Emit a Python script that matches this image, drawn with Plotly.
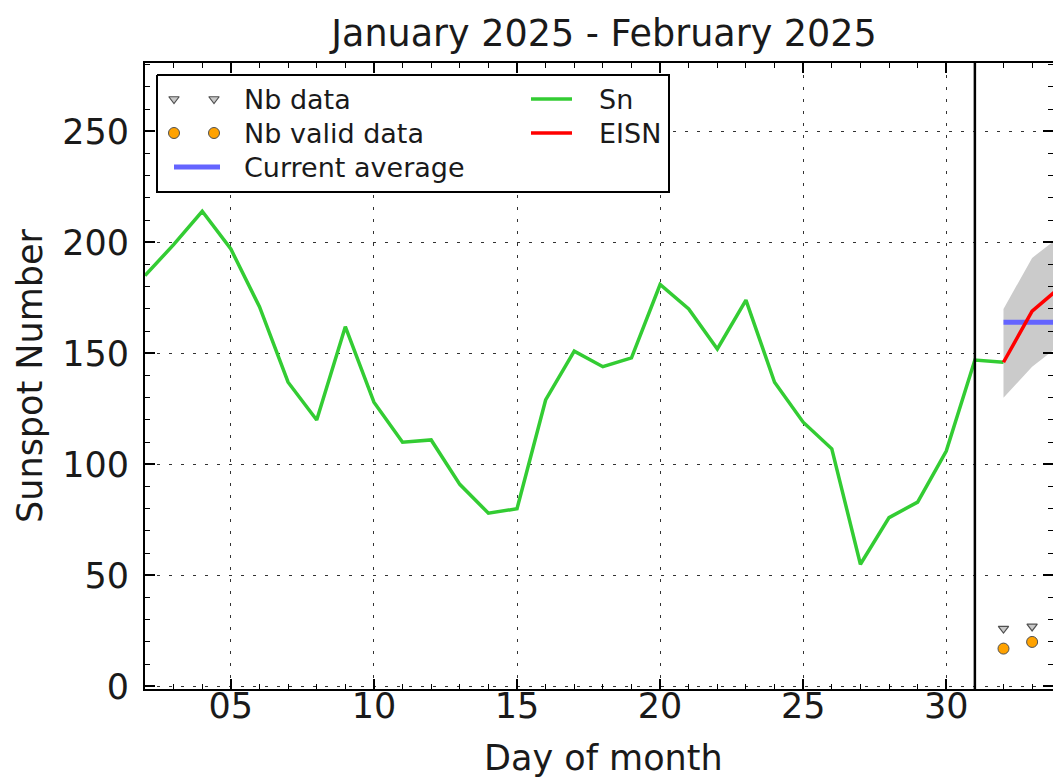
import plotly.graph_objects as go

# Daily sunspot number, January 2025 (days 32+ continue into February)
sn_days = list(range(2, 33))
sn_values = [185, 199, 214, 197, 171, 137, 120, 162, 128, 110, 111, 91, 78, 80,
             129, 151, 144, 148, 181, 170, 152, 174, 137, 119, 107, 55, 76, 83,
             106, 147, 146]

# Estimated international sunspot number for the new month
eisn_days = [32, 33, 34]
eisn_values = [146, 169, 180]
eisn_upper = [170, 193, 203]
eisn_lower = [130, 144, 154]

# Running average of the current month
avg_days = [32, 34]
avg_value = 164

# Number of stations reporting
nb_days = [32, 33]
nb_data = [26, 27]
nb_valid = [17, 20]

month_boundary = 31
x_ticks = [5, 10, 15, 20, 25, 30]
x_tick_labels = ["05", "10", "15", "20", "25", "30"]
y_ticks = [0, 50, 100, 150, 200, 250]

FONT = "DejaVu Sans"
TXT = "#1a1a1a"
W, H = 1053, 778
L, R, T, B = 145, 1053, 63, 689  # plot area in pixels

fig = go.Figure()

# Uncertainty band around EISN
fig.add_trace(go.Scatter(
    x=eisn_days + eisn_days[::-1], y=eisn_upper + eisn_lower[::-1],
    fill="toself", fillcolor="#cbcbcb", line=dict(width=0),
    mode="lines", hoverinfo="skip", showlegend=False))

fig.add_trace(go.Scatter(
    x=avg_days, y=[avg_value] * len(avg_days), mode="lines",
    line=dict(color="#6464ff", width=5), showlegend=False))

fig.add_trace(go.Scatter(
    x=sn_days, y=sn_values, mode="lines",
    line=dict(color="#33cc33", width=3.5), showlegend=False))

fig.add_trace(go.Scatter(
    x=eisn_days, y=eisn_values, mode="lines",
    line=dict(color="#ff0000", width=3.5), showlegend=False))

fig.add_trace(go.Scatter(
    x=nb_days, y=nb_data, mode="markers",
    marker=dict(symbol="triangle-down", size=9, color="#c8c8c8",
                line=dict(color="#505050", width=1.2)),
    showlegend=False, cliponaxis=False))

fig.add_trace(go.Scatter(
    x=nb_days, y=nb_valid, mode="markers",
    marker=dict(symbol="circle", size=11, color="#ffa200",
                line=dict(color="#505050", width=1)),
    showlegend=False, cliponaxis=False))

# Month boundary
fig.add_shape(type="line", xref="x", yref="paper", x0=month_boundary, x1=month_boundary,
              y0=0, y1=1, line=dict(color="black", width=2.5), layer="above")

# ---- Legend drawn in pixel coordinates on an overlay axis pair ----
leg_x0, leg_y0, leg_x1, leg_y1 = 157, 75, 669, 192
fig.add_trace(go.Scatter(
    x=[leg_x0, leg_x1, leg_x1, leg_x0, leg_x0],
    y=[leg_y0, leg_y0, leg_y1, leg_y1, leg_y0],
    xaxis="x2", yaxis="y2", mode="lines", fill="toself", fillcolor="white",
    line=dict(color="black", width=2), showlegend=False, hoverinfo="skip",
    cliponaxis=False))

row_y = [99, 133, 167]
fig.add_trace(go.Scatter(
    x=[174, 214], y=[row_y[0]] * 2, xaxis="x2", yaxis="y2", mode="markers",
    marker=dict(symbol="triangle-down", size=9, color="#c8c8c8",
                line=dict(color="#505050", width=1.2)),
    showlegend=False, cliponaxis=False, hoverinfo="skip"))
fig.add_trace(go.Scatter(
    x=[174, 214], y=[row_y[1]] * 2, xaxis="x2", yaxis="y2", mode="markers",
    marker=dict(symbol="circle", size=11, color="#ffa200",
                line=dict(color="#505050", width=1)),
    showlegend=False, cliponaxis=False, hoverinfo="skip"))
fig.add_trace(go.Scatter(
    x=[174, 220], y=[row_y[2]] * 2, xaxis="x2", yaxis="y2", mode="lines",
    line=dict(color="#6464ff", width=5), showlegend=False, hoverinfo="skip"))
fig.add_trace(go.Scatter(
    x=[531, 572], y=[row_y[0]] * 2, xaxis="x2", yaxis="y2", mode="lines",
    line=dict(color="#33cc33", width=3.5), showlegend=False, hoverinfo="skip"))
fig.add_trace(go.Scatter(
    x=[531, 572], y=[row_y[1]] * 2, xaxis="x2", yaxis="y2", mode="lines",
    line=dict(color="#ff0000", width=3.5), showlegend=False, hoverinfo="skip"))

legend_texts = [("Nb data", 242, row_y[0]), ("Nb valid data", 242, row_y[1]),
                ("Current average", 242, row_y[2]), ("Sn", 597, row_y[0]),
                ("EISN", 597, row_y[1])]
for txt, px, py in legend_texts:
    fig.add_annotation(text=txt, x=px, y=py, xref="x2", yref="y2",
                       xanchor="left", yanchor="middle", showarrow=False,
                       font=dict(family=FONT, size=27, color=TXT))

# x-axis title placed below the tick labels
fig.add_annotation(text="Day of month", xref="paper", yref="paper",
                   x=(603 - L) / (R - L), y=(B - 758) / (B - T),
                   xanchor="center", yanchor="middle", showarrow=False,
                   font=dict(family=FONT, size=35, color=TXT))

axis_common = dict(
    showline=True, linecolor="black", linewidth=2, mirror="allticks",
    ticks="inside", ticklen=10, tickwidth=1.5, tickcolor="black",
    showgrid=True, gridcolor="#333333", gridwidth=1, griddash="3px,9px",
    zeroline=False, automargin=False,
    tickfont=dict(family=FONT, size=35, color=TXT),
)

fig.update_layout(
    width=W, height=H,
    margin=dict(l=L, r=W - R, t=T, b=H - B),
    paper_bgcolor="white", plot_bgcolor="white",
    title=dict(text="January 2025 - February 2025", x=0.5 + 5 / (R - L), xref="paper",
               y=1 - 33 / H, yref="container", xanchor="center", yanchor="middle",
               font=dict(family=FONT, size=36.5, color=TXT)),
    xaxis=dict(
        range=[2, 33.73], tickvals=x_ticks, ticktext=x_tick_labels,
        minor=dict(dtick=1, tick0=0, ticks="inside", ticklen=5, tickwidth=1,
                   tickcolor="black", showgrid=False),
        ticklabelstandoff=-15,
        **axis_common),
    yaxis=dict(
        range=[-1.2, 280.8], tickvals=y_ticks,
        title=dict(text="Sunspot Number", font=dict(family=FONT, size=35, color=TXT),
                   standoff=9),
        minor=dict(dtick=10, tick0=0, ticks="inside", ticklen=5, tickwidth=1,
                   tickcolor="black", showgrid=False),
        ticklabelstandoff=7,
        **axis_common),
    xaxis2=dict(overlaying="x", range=[L, R], visible=False, fixedrange=True),
    yaxis2=dict(overlaying="y", range=[B, T], visible=False, fixedrange=True),
    showlegend=False,
)

fig.write_html("out.html")
